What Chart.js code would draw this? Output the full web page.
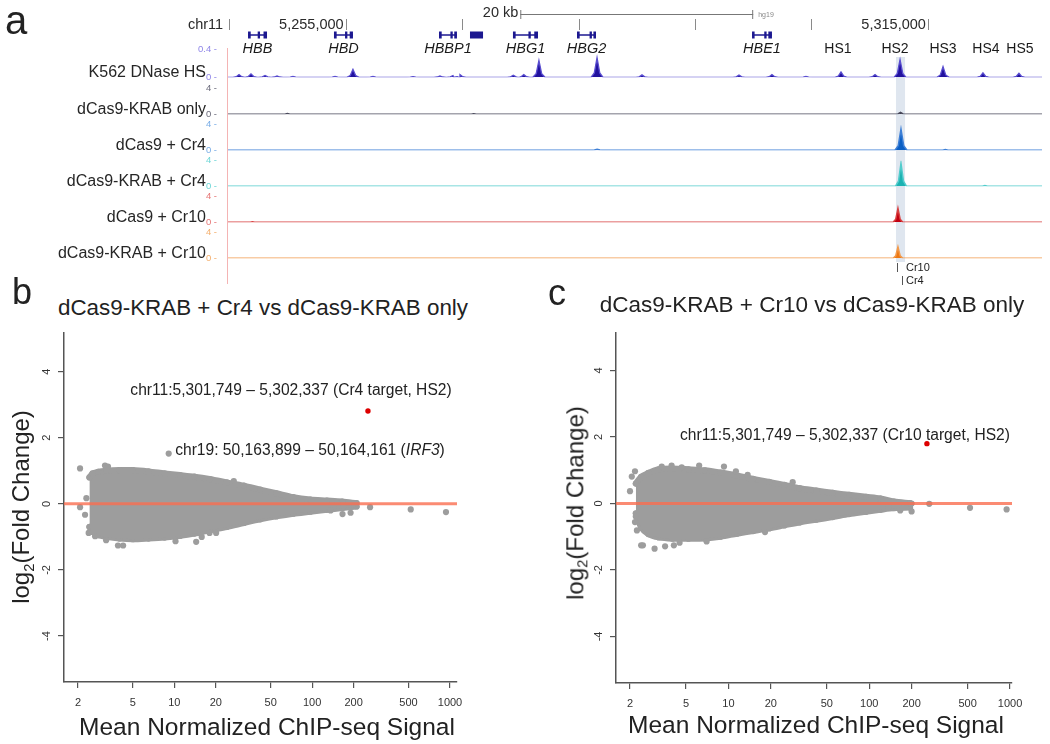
<!DOCTYPE html>
<html><head><meta charset="utf-8">
<script src="https://cdn.jsdelivr.net/npm/chart.js@4.4.1/dist/chart.umd.min.js"></script>
<style>
body{margin:0;background:#fff;}
#fig{position:relative;width:1050px;height:744px;overflow:hidden;font-family:"Liberation Sans",Arial,sans-serif;color:#222;background:#fff;}
canvas{position:absolute;}
.t{position:absolute;white-space:nowrap;line-height:1;}
</style></head><body><div id="fig"></div>
<script>
// ================= DATA =================
// --- panel a: genome browser (hg19 chr11) ---
const rulerTicks = [5245000, 5255000, 5265000, 5275000, 5285000, 5295000, 5305000];
const rulerLabelText = ['chr11', '5,255,000', '5,315,000'];
const rulerLabelAt = [5245000, 5255000, 5305000];
const scaleBarStart = 5270000, scaleBarEnd = 5290000;
const geneNames  = ['HBB', 'HBD', 'HBBP1', '', 'HBG1', 'HBG2', 'HBE1'];
const geneStarts = [5246620, 5254000, 5263020, 5265680, 5269370, 5274870, 5289900];
const geneEnds   = [5248250, 5255630, 5264560, 5266800, 5271520, 5276500, 5291610];
const geneExons = [
  [[5246620, 5246850], [5247450, 5247650], [5247950, 5248250]],
  [[5254000, 5254230], [5254950, 5255150], [5255350, 5255630]],
  [[5263020, 5263250], [5264000, 5264200], [5264330, 5264560]],
  [[5265680, 5266800]],
  [[5269370, 5269600], [5270700, 5270900], [5271200, 5271520]],
  [[5274870, 5275100], [5275950, 5276150], [5276280, 5276500]],
  [[5289900, 5290120], [5290950, 5291150], [5291300, 5291610]]
];
const hsNames = ['HS1', 'HS2', 'HS3', 'HS4', 'HS5'];
const hsPos   = [5297280, 5302180, 5306300, 5309990, 5312910];
const highlightStart = 5302260, highlightEnd = 5303040;
const sgNames = ['Cr10', 'Cr4'];
const sgPos   = [5302350, 5302780];

const trackNames = ['K562 DNase HS', 'dCas9-KRAB only', 'dCas9 + Cr4', 'dCas9-KRAB + Cr4', 'dCas9 + Cr10', 'dCas9-KRAB + Cr10'];
const trackMax   = [0.4, 4, 4, 4, 4, 4];
const dnasePeakPos = [5245845, 5246875, 5248080, 5249110, 5250480, 5254090, 5255630, 5257350, 5260790, 5263100, 5264220, 5264820,
  5269400, 5270300, 5271600, 5276590, 5280450, 5288780, 5291610, 5294530, 5297540, 5300460, 5302610, 5306300, 5309730, 5312820];
const dnasePeakVal = [0.04, 0.05, 0.026, 0.02, 0.013, 0.013, 0.116, 0.013, 0.01, 0.02, 0.026, 0.039,
  0.03, 0.04, 0.245, 0.284, 0.035, 0.032, 0.04, 0.013, 0.077, 0.04, 0.255, 0.155, 0.065, 0.058];
const krabOnlyPeakPos = [5250000, 5266000, 5302650];
const krabOnlyPeakVal = [0.12, 0.1, 0.3];
const dcas9Cr4PeakPos = [5276600, 5302690, 5306500];
const dcas9Cr4PeakVal = [0.15, 3.3, 0.12];
const krabCr4PeakPos  = [5302690, 5309900];
const krabCr4PeakVal  = [3.6, 0.12];
const dcas9Cr10PeakPos = [5247000, 5302430];
const dcas9Cr10PeakVal = [0.1, 2.2];
const krabCr10PeakPos  = [5302430];
const krabCr10PeakVal  = [1.8];

// --- panels b, c: MA plots ---
const xTickValues = [2, 5, 10, 20, 50, 100, 200, 500, 1000];
const yTickValues = [-4, -2, 0, 2, 4];

const cloudBx     = [2.42, 2.55, 2.8, 3.2, 4.0, 5.0, 6.5, 8.5, 11, 14, 18, 24, 32, 42, 55, 73, 97, 128, 165, 210];
const cloudBupper = [0.8, 0.92, 0.97, 1.0, 1.02, 1.02, 0.98, 0.92, 0.87, 0.82, 0.75, 0.65, 0.55, 0.43, 0.32, 0.2, 0.13, 0.1, 0.07, 0.02];
const cloudBlower = [-0.7, -0.85, -0.95, -1.0, -1.05, -1.07, -1.05, -1.02, -0.97, -0.9, -0.8, -0.7, -0.58, -0.47, -0.38, -0.3, -0.24, -0.18, -0.13, -0.08];
const outBx = [2.07, 2.3, 2.07, 2.25, 2.39, 2.66, 3.2, 3.14, 3.3, 3.9, 4.25, 10.2, 14.4, 15.8, 18, 20.1, 27, 136, 153, 166, 190, 263, 519, 935];
const outBy = [1.07, 0.17, -0.1, -0.33, -0.88, -0.98, -1.1, 1.16, 1.13, -1.26, -1.26, -1.13, -1.15, -1.0, -0.88, -0.88, 0.69, -0.2, 0.0, -0.31, -0.27, -0.1, -0.17, -0.25];
const irf3B = [9.1, 1.52];
const targetB = [254, 2.81];

const cloudCx     = [2.2, 2.4, 2.7, 3.2, 4.0, 5.2, 6.8, 8.8, 11.5, 15, 19.5, 25, 32, 42, 55, 72, 95, 120, 150, 195];
const cloudCupper = [0.6, 0.8, 0.92, 1.03, 1.05, 1.03, 1.0, 0.93, 0.84, 0.74, 0.65, 0.56, 0.46, 0.39, 0.32, 0.26, 0.2, 0.15, 0.06, 0.01];
const cloudClower = [-0.3, -0.72, -0.92, -1.02, -1.06, -1.06, -1.05, -1.0, -0.91, -0.83, -0.75, -0.66, -0.57, -0.49, -0.41, -0.32, -0.25, -0.19, -0.14, -0.12];
const outCx = [2.0, 2.06, 2.17, 2.2, 2.17, 2.24, 2.4, 2.47, 2.99, 3.55, 4.1, 4.5, 7.0, 18.2, 3.36, 3.95, 4.66, 6.2, 9.3, 11.3, 13.7, 28.6, 121, 137, 166, 200, 200, 267, 520, 946];
const outCy = [0.37, 0.81, 0.97, -0.39, -0.56, -0.81, -1.26, -1.26, -1.36, -1.29, -1.26, -1.18, -1.14, -0.86, 1.11, 1.14, 1.09, 1.14, 1.11, 0.97, 0.86, 0.64, 0.14, -0.11, -0.21, -0.24, 0.0, -0.01, -0.13, -0.18];
const targetC = [257, 1.8];

// ================= RENDERING =================
const FONT = '"Liberation Sans", Arial, sans-serif';
Chart.defaults.font.family = FONT;
const fig = document.getElementById('fig');
function addCanvas(l, t, w, h) {
  const c = document.createElement('canvas');
  c.width = w; c.height = h;
  c.style.left = l + 'px'; c.style.top = t + 'px'; c.style.width = w + 'px'; c.style.height = h + 'px';
  fig.appendChild(c); return c;
}
function addText(html, x, y, size, opt) {
  opt = opt || {};
  const d = document.createElement('div');
  d.className = 't'; d.innerHTML = html;
  d.style.left = x + 'px'; d.style.top = y + 'px'; d.style.fontSize = size + 'px';
  if (opt.color) d.style.color = opt.color;
  const ax = opt.align === 'right' ? '-100%' : (opt.align === 'left' ? '0' : '-50%');
  d.style.transform = 'translate(' + ax + ',-50%)' + (opt.rotate ? ' rotate(' + opt.rotate + 'deg)' : '');
  fig.appendChild(d); return d;
}

const X_MIN = 5244900, X_MAX = 5314800;
const A_LEFT = 228, A_RIGHT_PAD = 8;
const trackTops  = [48, 87, 123, 159, 195, 231];
const trackBases = [79, 116, 152, 188, 224, 260];
const trackLine = ['#5a4ed0', '#4a4a5c', '#3d7fd6', '#52cccc', '#d84040', '#f29a4c'];
const trackFill = ['#22129e', '#3a3a4a', '#0b5fc4', '#1cb2b2', '#c20010', '#ee7812'];
const trackTick = ['#8f86e8', '#6a6a7a', '#78ace6', '#6cd6d6', '#e67474', '#f4ae6c'];
const trackPeaks = [[dnasePeakPos, dnasePeakVal], [krabOnlyPeakPos, krabOnlyPeakVal], [dcas9Cr4PeakPos, dcas9Cr4PeakVal],
  [krabCr4PeakPos, krabCr4PeakVal], [dcas9Cr10PeakPos, dcas9Cr10PeakVal], [krabCr10PeakPos, krabCr10PeakVal]];
const PEAK_HALF = [520, 480, 520, 480, 420, 420];

function profile(pos, val, hw) {
  const pts = [{x: X_MIN, y: 0}];
  pos.forEach((c, i) => {
    const h = val[i];
    pts.push({x: c - hw, y: 0}, {x: c - hw * 0.45, y: h * 0.22}, {x: c, y: h}, {x: c + hw * 0.45, y: h * 0.22}, {x: c + hw, y: 0});
  });
  pts.push({x: X_MAX, y: 0});
  return pts.sort((a, b) => a.x - b.x);
}

// base layer for panel a: ruler, genes, highlight, sgRNA marks
const browserDecor = {
  id: 'browserDecor',
  beforeDraw(chart) {
    const ctx = chart.ctx, xs = chart.scales.x;
    ctx.save();
    const x0 = xs.getPixelForValue(highlightStart), x1 = xs.getPixelForValue(highlightEnd);
    ctx.fillStyle = '#dfe6ef';
    ctx.fillRect(x0, 57, x1 - x0, 205);
    ctx.strokeStyle = '#f4b4b4'; ctx.lineWidth = 1;
    ctx.beginPath(); ctx.moveTo(chart.chartArea.left - 0.5, 48); ctx.lineTo(chart.chartArea.left - 0.5, 284); ctx.stroke();
    ctx.restore();
  },
  afterDraw(chart) {
    const ctx = chart.ctx, xs = chart.scales.x;
    ctx.save();
    // ruler
    ctx.strokeStyle = '#8a8a8a'; ctx.lineWidth = 1;
    rulerTicks.forEach(p => { const x = Math.round(xs.getPixelForValue(p)) + 0.5; ctx.beginPath(); ctx.moveTo(x, 19); ctx.lineTo(x, 30); ctx.stroke(); });
    ctx.fillStyle = '#2a2a2a'; ctx.font = '14.5px ' + FONT; ctx.textAlign = 'right'; ctx.textBaseline = 'middle';
    rulerLabelAt.forEach((p, i) => { const gap = i === 0 ? 6 : 2; ctx.fillText(rulerLabelText[i], xs.getPixelForValue(p) - gap, 25); });
    // scale bar
    const s0 = xs.getPixelForValue(scaleBarStart), s1 = xs.getPixelForValue(scaleBarEnd);
    ctx.strokeStyle = '#777';
    ctx.beginPath(); ctx.moveTo(s0, 14.5); ctx.lineTo(s1, 14.5);
    ctx.moveTo(s0 + 0.5, 10); ctx.lineTo(s0 + 0.5, 19); ctx.moveTo(s1 - 0.5, 10); ctx.lineTo(s1 - 0.5, 19); ctx.stroke();
    ctx.fillStyle = '#2a2a2a'; ctx.font = '14.5px ' + FONT; ctx.textAlign = 'right';
    ctx.fillText('20 kb', s0 - 2, 13);
    ctx.fillStyle = '#888'; ctx.font = '7px ' + FONT; ctx.textAlign = 'left';
    ctx.fillText('hg19', s1 + 5, 15);
    // genes
    ctx.fillStyle = '#1c1890'; ctx.strokeStyle = '#1c1890';
    geneStarts.forEach((g, i) => {
      const a = xs.getPixelForValue(g), b = xs.getPixelForValue(geneEnds[i]);
      ctx.lineWidth = 1.5; ctx.beginPath(); ctx.moveTo(a, 35); ctx.lineTo(b, 35); ctx.stroke();
      geneExons[i].forEach(e => { const ea = xs.getPixelForValue(e[0]), eb = xs.getPixelForValue(e[1]); ctx.fillRect(ea, 31.5, Math.max(eb - ea, 1.5), 7); });
      if (geneNames[i]) {
        ctx.fillStyle = '#1a1a1a'; ctx.font = 'italic 14.5px ' + FONT; ctx.textAlign = 'center'; ctx.textBaseline = 'middle';
        ctx.fillText(geneNames[i], (a + b) / 2, 49);
        ctx.fillStyle = '#1c1890';
      }
    });
    ctx.fillStyle = '#1a1a1a'; ctx.font = '14px ' + FONT; ctx.textAlign = 'center'; ctx.textBaseline = 'middle';
    hsNames.forEach((n, i) => ctx.fillText(n, xs.getPixelForValue(hsPos[i]), 49));
    // sgRNA marks
    ctx.strokeStyle = '#555'; ctx.lineWidth = 1; ctx.font = '11px ' + FONT; ctx.textAlign = 'left'; ctx.fillStyle = '#222';
    sgPos.forEach((p, i) => {
      const x = Math.round(xs.getPixelForValue(p)) + 0.5, y = 268 + i * 13;
      ctx.beginPath(); ctx.moveTo(x, y - 5); ctx.lineTo(x, y + 4); ctx.stroke();
      ctx.fillText(sgNames[i], 906, y);
    });
    ctx.restore();
  }
};
new Chart(addCanvas(0, 0, 1050, 290), {
  type: 'line', data: {datasets: []},
  options: {responsive: false, animation: false, devicePixelRatio: 1, events: [],
    layout: {padding: {left: A_LEFT, right: A_RIGHT_PAD, top: 0, bottom: 0}},
    plugins: {legend: {display: false}, tooltip: {enabled: false}},
    scales: {x: {type: 'linear', min: X_MIN, max: X_MAX, display: false}, y: {min: 0, max: 1, display: false}}},
  plugins: [browserDecor]
});

// signal tracks
const PAD = 7;
trackNames.forEach((name, i) => {
  const top = trackTops[i], base = trackBases[i];
  const cv = addCanvas(0, top - PAD, 1050, base - top + 2 * PAD);
  new Chart(cv, {
    type: 'line',
    data: {datasets: [{data: profile(trackPeaks[i][0], trackPeaks[i][1], PEAK_HALF[i]),
      borderColor: trackLine[i], backgroundColor: trackFill[i], borderWidth: i === 0 ? 1.3 : 1.5,
      fill: 'origin', pointRadius: 0, tension: 0}]},
    options: {responsive: false, animation: false, devicePixelRatio: 1, events: [],
      layout: {padding: {left: A_LEFT - 40, right: A_RIGHT_PAD, top: PAD, bottom: PAD}},
      plugins: {legend: {display: false}, tooltip: {enabled: false}},
      scales: {
        x: {type: 'linear', min: X_MIN, max: X_MAX, display: false},
        y: {min: 0, max: trackMax[i],
          afterFit(s) { s.width = 40; },
          afterBuildTicks(s) { s.ticks = [{value: 0}, {value: trackMax[i]}]; },
          grid: {display: false}, border: {display: false},
          ticks: {color: trackTick[i], font: {size: 9.5}, padding: 3, callback: v => v + ' -'}}
      }}
  });
  addText(name, 206, base - 7, 16, {align: 'right', color: '#262626'});
});

// MA plots
const GREY = '#9d9d9d', AX = '#555555';
function pts(xa, ya) { return xa.map((x, i) => ({x: x, y: ya[i]})); }
function makeMA(o) {
  const cv = addCanvas(o.left, o.top, o.w, o.h);
  new Chart(cv, {
    type: 'line',
    data: {datasets: [
      {data: [{x: o.target[0], y: o.target[1]}], showLine: false, pointRadius: 2.7, pointBackgroundColor: '#dd0000', pointBorderWidth: 0, order: 0},
      {data: [{x: o.xmin, y: 0}, {x: o.xmax, y: 0}], showLine: true, borderColor: 'rgba(250,110,80,0.8)', borderWidth: 3, pointRadius: 0, order: 1},
      {data: o.outliers, showLine: false, pointRadius: 3.1, pointBackgroundColor: GREY, pointBorderWidth: 0, order: 2},
      {data: o.upper, showLine: true, fill: '+1', borderColor: GREY, backgroundColor: GREY, borderWidth: 6, borderJoinStyle: 'round', borderCapStyle: 'round',
        pointRadius: 3.1, pointBackgroundColor: GREY, pointBorderWidth: 0, tension: 0.3, order: 3},
      {data: o.lower, showLine: true, borderColor: GREY, borderWidth: 6, borderJoinStyle: 'round', borderCapStyle: 'round',
        pointRadius: 3.1, pointBackgroundColor: GREY, pointBorderWidth: 0, tension: 0.3, order: 3}
    ]},
    options: {responsive: false, animation: false, devicePixelRatio: 1, events: [],
      layout: {padding: o.pad},
      plugins: {legend: {display: false}, tooltip: {enabled: false}},
      scales: {
        x: {type: 'logarithmic', min: o.xmin, max: o.xmax,
          afterBuildTicks(s) { s.ticks = xTickValues.map(v => ({value: v})); },
          afterFit(s) { s.height = 40; },
          grid: {drawOnChartArea: false, drawTicks: true, tickLength: 6, color: AX, tickColor: AX, lineWidth: 1.2},
          border: {display: true, color: AX, width: 1.5},
          ticks: {color: '#333', font: {size: 11}, padding: 8, maxRotation: 0, minRotation: 0, autoSkip: false, callback: v => String(v)}},
        y: {type: 'linear', min: o.ymin, max: o.ymax,
          afterBuildTicks(s) { s.ticks = yTickValues.map(v => ({value: v})); },
          afterFit(s) { s.width = 30; },
          grid: {drawOnChartArea: false, drawTicks: true, tickLength: 6, color: AX, tickColor: AX, lineWidth: 1.2},
          border: {display: true, color: AX, width: 1.5},
          ticks: {color: '#333', font: {size: 11}, padding: 6, minRotation: 90, maxRotation: 90, crossAlign: 'center', autoSkip: false, callback: v => String(v)}}
      }}
  });
}
makeMA({left: 0, top: 320, w: 525, h: 424, pad: {left: 34, right: 68, top: 10, bottom: 22},
  xmin: 1.583, xmax: 1124, ymin: -5.39, ymax: 5.18, target: targetB,
  outliers: pts(outBx, outBy).concat([{x: irf3B[0], y: irf3B[1]}]), upper: pts(cloudBx, cloudBupper), lower: pts(cloudBx, cloudBlower)});
makeMA({left: 530, top: 320, w: 520, h: 424, pad: {left: 56, right: 38, top: 12, bottom: 21},
  xmin: 1.591, xmax: 1033, ymin: -5.4, ymax: 5.14, target: targetC,
  outliers: pts(outCx, outCy), upper: pts(cloudCx, cloudCupper), lower: pts(cloudCx, cloudClower)});

// text labels
addText('a', 16, 20, 40);
addText('b', 22, 292, 36);
addText('c', 557, 293, 36);
addText('dCas9-KRAB + Cr4 vs dCas9-KRAB only', 263, 308, 22.4);
addText('dCas9-KRAB + Cr10 vs dCas9-KRAB only', 812, 305, 22.5);
addText('log<sub style="font-size:0.62em;vertical-align:-0.3em">2</sub>(Fold Change)', 23, 507, 24, {rotate: -90});
addText('log<sub style="font-size:0.62em;vertical-align:-0.3em">2</sub>(Fold Change)', 577, 503, 24, {rotate: -90});
addText('Mean Normalized ChIP-seq Signal', 267, 727, 24.5);
addText('Mean Normalized ChIP-seq Signal', 816, 725, 24.5);
addText('chr11:5,301,749 \u2013 5,302,337 (Cr4 target, HS2)', 291, 390, 15.6);
addText('chr19: 50,163,899 \u2013 50,164,161 (<i>IRF3</i>)', 310, 450, 15.6);
addText('chr11:5,301,749 \u2013 5,302,337 (Cr10 target, HS2)', 845, 435, 15.6);
</script></body></html>
